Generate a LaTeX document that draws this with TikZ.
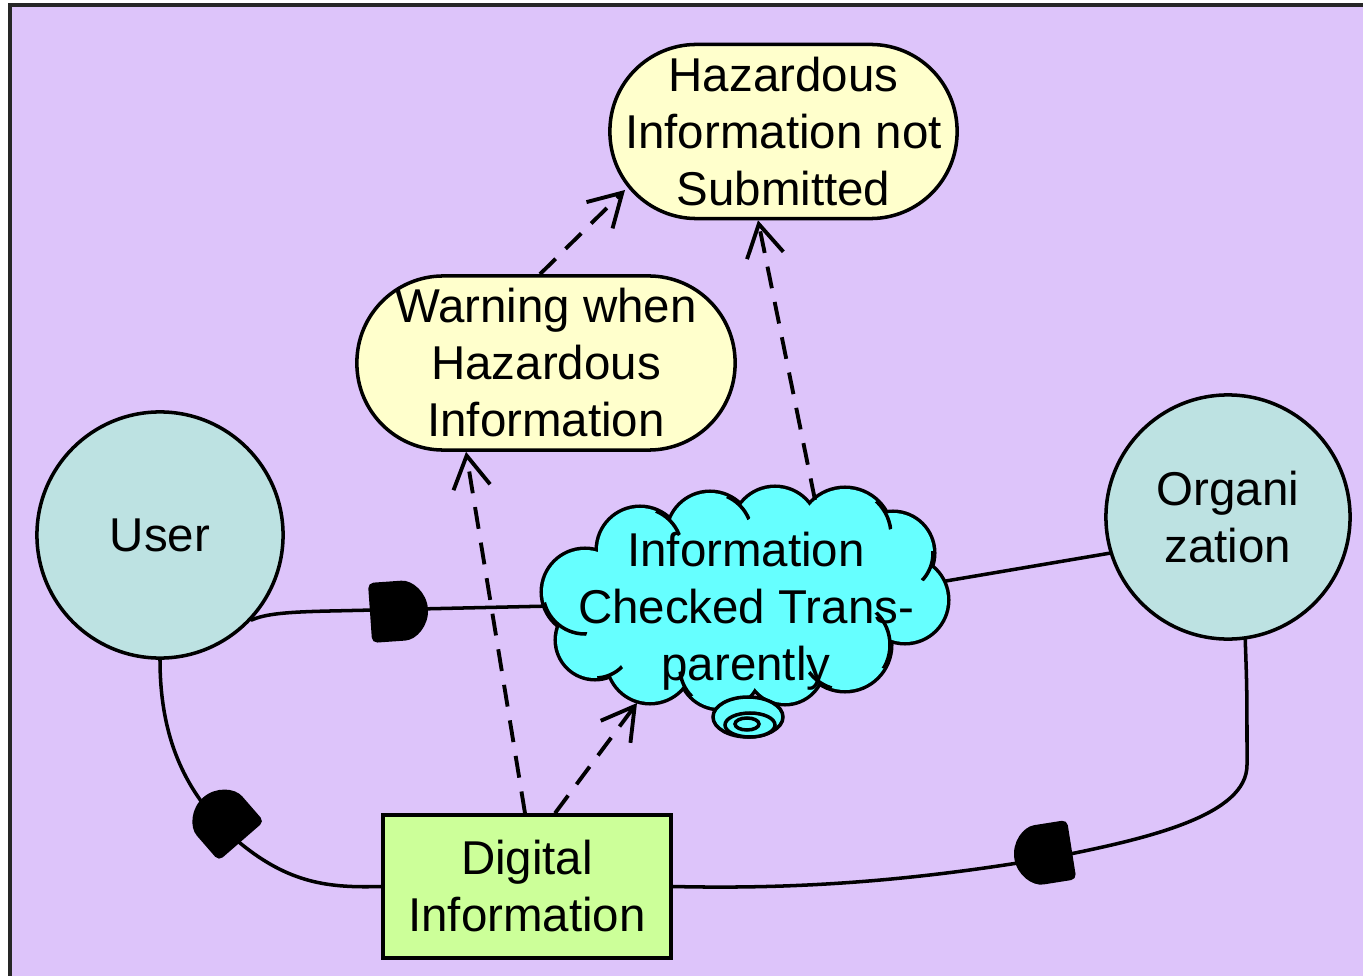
\documentclass[tikz,border=0pt]{standalone}
\usepackage{fontspec}
\setmainfont{Liberation Sans}
\usetikzlibrary{arrows.meta}

\definecolor{lavender}{HTML}{DDC4FA}
\definecolor{actorfill}{HTML}{BDE2E2}
\definecolor{goalfill}{HTML}{FFFFCC}
\definecolor{resfill}{HTML}{CCFF99}
\definecolor{softfill}{HTML}{66FFFF}

\pgfdeclarelayer{backdrop}
\pgfdeclarelayer{links}
\pgfsetlayers{backdrop,links,main}

\tikzset{
  lbl/.style={font=\fontsize{13.5}{16.2}\selectfont, align=center, text=black},
  actor/.style={circle, draw, line width=1pt, fill=actorfill, minimum size=#1, inner sep=0pt, lbl},
  goal/.style={rectangle, rounded corners=0.865cm, draw, line width=1pt, fill=goalfill, inner sep=0pt,
               minimum width=#1, minimum height=1.74cm, lbl},
  resource/.style={rectangle, draw, line width=1pt, fill=resfill, inner sep=0pt,
               minimum width=2.88cm, minimum height=1.43cm, lbl},
  conn/.style={line width=1pt, line cap=round},
  dep/.style={line width=1.1pt, dash pattern=on 0.22cm off 0.14cm,
              -{Straight Barb[length=3.2mm,width=3.7mm,line width=1.1pt]}},
  gate/.pic={\fill[rounded corners=1.5pt] (-0.28cm,-0.3cm) -- (0cm,-0.3cm)
              arc[start angle=-90,end angle=90,radius=0.3cm] -- (-0.28cm,0.3cm) -- cycle;}
}

% short inner arc of a cloud puff: clip centre x, y, clip radius, puff centre, puff radius
\newcommand\puffarc[5]{%
  \begin{scope}
    \clip (#1,#2) circle[radius=#3];
    \draw[line width=1pt] (#4) circle[radius=#5];
  \end{scope}}

\begin{document}
\begin{tikzpicture}[x=0.01cm,y=-0.01cm]
\useasboundingbox (0,0) rectangle (1363,976);

% canvas
\begin{pgfonlayer}{backdrop}
  \draw[line width=1pt, draw=black!85, fill=lavender] (10,5) rectangle (1380,995);
\end{pgfonlayer}

% actors, goals and resource
\node[actor=2.46cm] (user) at (160,535) {User};
\node[actor=2.44cm] (org) at (1228,517) {Organi\\zation};
\node[goal=3.47cm] (haz) at (783.5,131.5) {Hazardous\\Information not\\Submitted};
\node[goal=3.78cm] (warn) at (546,363) {Warning when\\Hazardous\\Information};
\node[resource] (digital) at (527,886.5) {Digital\\Information};

% softgoal cloud: union of puffs, outlined then filled
\def\puffs{905/600/42, 893/553/40, 845/535/46, 775/530/42, 710/535/42, 640/550/42,
           585/592/42, 595/640/38, 650/660/42, 720/668/40, 785/665/38, 845/645/45}
\foreach \px/\py/\pr in \puffs {\draw[line width=2pt] (\px,\py) circle[radius=\pr];}
\foreach \px/\py/\pr in \puffs {\fill[softfill] (\px,\py) circle[radius=\pr];}
\fill[softfill] (746,596) ellipse[x radius=150, y radius=55];

% tail of the softgoal
\draw[line width=1pt, fill=softfill] (748,717) ellipse [x radius=35, y radius=20];
\draw[line width=1pt, fill=softfill] (750,725) ellipse [x radius=25, y radius=12];
\draw[line width=1pt] (747,724) ellipse [x radius=12, y radius=6];

\node[lbl] (cloud) at (746,611) {Information\\Checked Trans-\\parently};

% inner arcs where the puffs meet
\puffarc{670}{521}{17}{640,550}{42}
\puffarc{740}{506}{16}{710,535}{42}
\puffarc{886}{514}{16}{845,535}{46}
\puffarc{931}{567}{16}{893,553}{40}
\puffarc{890}{639}{30}{845,645}{45}
\puffarc{819}{682}{14}{845,645}{45}
\puffarc{684}{685}{14}{720,668}{40}
\puffarc{611}{675}{14}{595,640}{38}
\puffarc{560}{626}{28}{585,592}{42}

% attachment points on the softgoal and goal outlines
\coordinate (cW) at (552,606);
\coordinate (cE) at (940,582);
\coordinate (cS) at (637,703);
\coordinate (cN) at (815,500);
\coordinate (hW) at (625,190);

% dependency links
\begin{pgfonlayer}{links}
  \draw[conn] (user.-43) .. controls (265,614) and (285,612) .. (330,611) -- (cW);
  \draw[conn] (cE) -- (org.197);
  \draw[conn] (user.-90) .. controls (160,745) and (190,800) .. (240,843)
              .. controls (290,884) and (330,888) .. (digital.west);
  \draw[conn] (org.-82) .. controls (1247,690) .. (1247,765)
              .. controls (1247,815) and (1150,838) .. (1060,856)
              .. controls (900,884) and (780,889) .. (digital.east);
\end{pgfonlayer}

% dependency markers
\pic[rotate=4] at (398,611) {gate};
\pic[rotate=131] at (223,820) {gate};
\pic[rotate=189] at (1044,854) {gate};

% contribution links
\draw[dep] ([xshift=-0.02cm]digital.north) -- (warn.228);
\draw[dep] ([xshift=0.28cm]digital.north) -- (cS);
\draw[dep] ([xshift=-0.06cm]warn.north) -- (hW);
\draw[dep] (cN) -- (haz.254);
\end{tikzpicture}
\end{document}
